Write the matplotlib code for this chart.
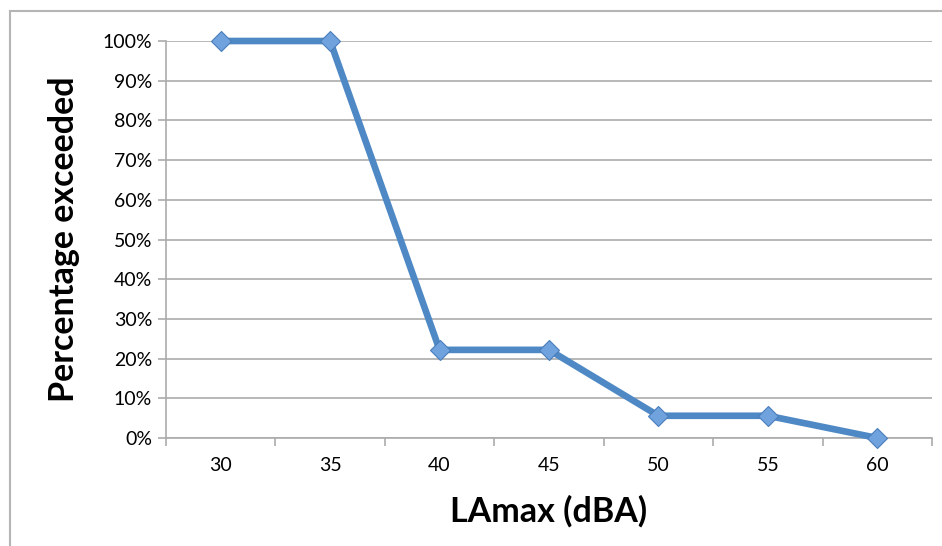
import matplotlib.pyplot as plt
from matplotlib.lines import Line2D
from matplotlib.ticker import FixedLocator, PercentFormatter

# LAmax levels and the share of events exceeding each level
levels = ["30", "35", "40", "45", "50", "55", "60"]
pct_exceeded = [100.0, 100.0, 22.2, 22.2, 5.6, 5.6, 0.0]

plt.rcParams['font.family'] = ['Lato', 'DejaVu Sans']

fig = plt.figure(figsize=(9.42, 5.46), dpi=100)
ax = fig.add_axes([0.1762, 0.1978, 0.8132, 0.7271])

x = list(range(len(levels)))
ax.plot(x, pct_exceeded, color='#4F89C5', lw=4.8, solid_joinstyle='round',
        marker='D', markersize=10, markerfacecolor='#70A2DE',
        markeredgecolor='#4A7EBB', markeredgewidth=0.8, zorder=3, clip_on=False)

ax.set_xlim(-0.5, len(levels) - 0.5)
ax.set_ylim(0, 100)
ax.set_yticks(range(0, 101, 10))
ax.yaxis.set_major_formatter(PercentFormatter(decimals=0))
ax.set_xticks(x)
ax.set_xticklabels(levels)
ax.xaxis.set_minor_locator(FixedLocator([i - 0.5 for i in range(len(levels) + 1)]))

grid_col = '#ABABAB'
ax.grid(axis='y', color=grid_col, lw=1.2)
ax.set_axisbelow(True)
for side in ['top', 'right']:
    ax.spines[side].set_visible(False)
for side in ['left', 'bottom']:
    ax.spines[side].set_color(grid_col)
    ax.spines[side].set_linewidth(1.2)

ax.tick_params(axis='x', which='major', length=0, labelsize=14, pad=14)
ax.tick_params(axis='x', which='minor', length=6, width=1.2, color=grid_col, direction='out')
ax.tick_params(axis='y', length=6, width=1.2, color=grid_col, labelsize=14, pad=4)

ax.set_xlabel('LAmax (dBA)', fontsize=24.5, fontweight='bold', labelpad=15)
ax.set_ylabel('Percentage exceeded', fontsize=24.5, fontweight='bold', labelpad=16)

# chart frame: left and top edges
fig.add_artist(Line2D([0.0106, 0.0106], [0.0, 0.98], transform=fig.transFigure,
                      color='#B5B5B5', lw=1.5))
fig.add_artist(Line2D([0.0106, 1.0], [0.98, 0.98], transform=fig.transFigure,
                      color='#B5B5B5', lw=1.5))

fig.savefig('out.png', dpi=100)
